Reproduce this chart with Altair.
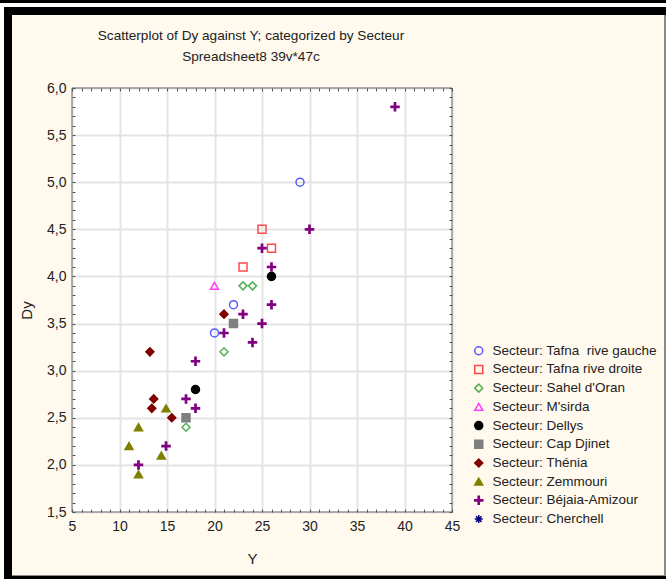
import altair as alt
import pandas as pd

# Sector names in legend order
SECTEURS = [
    "Tafna\u00a0 rive gauche", "Tafna rive droite", "Sahel d'Oran", "M'sirda",
    "Dellys", "Cap Djinet", "Thénia", "Zemmouri", "Béjaia-Amizour", "Cherchell",
]

# Y and Dy values per sector
tafna_g_y = [29, 22, 20]
tafna_g_dy = [5.0, 3.7, 3.4]
tafna_d_y = [25, 26, 23]
tafna_d_dy = [4.5, 4.3, 4.1]
sahel_y = [23, 24, 21, 17]
sahel_dy = [3.9, 3.9, 3.2, 2.4]
msirda_y = [20]
msirda_dy = [3.9]
dellys_y = [26, 18]
dellys_dy = [4.0, 2.8]
djinet_y = [22, 17]
djinet_dy = [3.5, 2.5]
thenia_y = [21, 13.2, 13.6, 13.4, 15.5]
thenia_dy = [3.6, 3.2, 2.7, 2.6, 2.5]
zemmouri_y = [14.9, 12, 11, 14.4, 12]
zemmouri_dy = [2.6, 2.4, 2.2, 2.1, 1.9]
bejaia_y = [39, 30, 25, 26, 26, 23, 25, 21, 24, 18, 17, 18, 14.9, 12]
bejaia_dy = [5.8, 4.5, 4.3, 4.1, 3.7, 3.6, 3.5, 3.4, 3.3, 3.1, 2.7, 2.6, 2.2, 2.0]
cherchell_y = []
cherchell_dy = []

series = [
    (tafna_g_y, tafna_g_dy), (tafna_d_y, tafna_d_dy), (sahel_y, sahel_dy),
    (msirda_y, msirda_dy), (dellys_y, dellys_dy), (djinet_y, djinet_dy),
    (thenia_y, thenia_dy), (zemmouri_y, zemmouri_dy), (bejaia_y, bejaia_dy),
    (cherchell_y, cherchell_dy),
]
rows = []
for name, (ys, dys) in zip(SECTEURS, series):
    for yv, dv in zip(ys, dys):
        rows.append({"Secteur": name, "Y": yv, "Dy": dv})
df = pd.DataFrame(rows)

# Axis tick positions
X_MAJOR = [5, 10, 15, 20, 25, 30, 35, 40, 45]
Y_MAJOR = [1.5, 2.0, 2.5, 3.0, 3.5, 4.0, 4.5, 5.0, 5.5, 6.0]
X_MINOR = list(range(5, 46))
Y_MINOR = [round(1.5 + 0.1 * i, 1) for i in range(46)]

# Marker styling per sector
STAR = "M-1,0L1,0M0,-1L0,1M-0.7,-0.7L0.7,0.7M-0.7,0.7L0.7,-0.7"
PLUS = ("M-1,-0.15L-0.15,-0.15L-0.15,-1L0.15,-1L0.15,-0.15L1,-0.15"
        "L1,0.15L0.15,0.15L0.15,1L-0.15,1L-0.15,0.15L-1,0.15Z")
SHAPES = ["circle", "square", "diamond", "triangle-up", "circle", "square",
          "diamond", "triangle-up", PLUS, STAR]
STROKES = ["#5a5aff", "#ff4a4a", "#55b055", "#ff3cff", "#000000", "#7f7f7f",
           "#800000", "#808000", "#800080", "#000080"]
FILLS = ["transparent", "transparent", "transparent", "transparent", "#000000",
         "#7f7f7f", "#800000", "#808000", "#800080", "transparent"]

W, H = 380, 424
FONT = "Liberation Sans"
TXT = "#222222"

xscale = alt.Scale(domain=[5, 45], nice=False, zero=False)
yscale = alt.Scale(domain=[1.5, 6.0], nice=False, zero=False)

legend = alt.Legend(
    title=None, orient="none", legendX=400, legendY=256,
    labelExpr="'Secteur: ' + datum.label",
    labelFont=FONT, labelFontSize=13.5, labelColor=TXT, labelLimit=300,
    labelOffset=7, rowPadding=3.7, symbolSize=64, symbolStrokeWidth=1.5,
    zindex=1,
)

axis_x = alt.Axis(
    values=X_MAJOR, grid=True, gridColor="#e4e4e4", gridWidth=2,
    ticks=False, domain=False, labelPadding=7, labelFont=FONT,
    labelFontSize=14, labelColor=TXT, labelFlush=False,
    title="Y", titleX=180, titleY=46, titleBaseline="middle",
    titleFont=FONT, titleFontSize=15, titleFontWeight="normal", titleColor=TXT,
)
axis_y = alt.Axis(
    values=Y_MAJOR, grid=True, gridColor="#e4e4e4", gridWidth=2,
    ticks=False, domain=False, labelPadding=6, labelFont=FONT,
    labelFontSize=14, labelColor=TXT, labelFlush=False,
    labelExpr="replace(format(datum.value, '.1f'), '.', ',')",
    title="Dy", titleX=-46, titleY=222, titleAngle=270, titleAlign="center",
    titleBaseline="middle", titleFont=FONT, titleFontSize=15,
    titleFontWeight="normal", titleColor=TXT,
)


def tick_axis(orient, offset, values):
    return alt.Axis(
        orient=orient, offset=offset, values=values, labels=False,
        domain=False, grid=False, ticks=True, tickSize=3, tickColor="#555555",
        tickWidth=1, title="", zindex=1,
    )


points = alt.Chart(df).mark_point(size=64, strokeWidth=1.5, opacity=1).encode(
    x=alt.X("Y:Q", scale=xscale, axis=axis_x),
    y=alt.Y("Dy:Q", scale=yscale, axis=axis_y),
    shape=alt.Shape("Secteur:N", scale=alt.Scale(domain=SECTEURS, range=SHAPES), legend=legend),
    stroke=alt.Stroke("Secteur:N", scale=alt.Scale(domain=SECTEURS, range=STROKES), legend=legend),
    fill=alt.Fill("Secteur:N", scale=alt.Scale(domain=SECTEURS, range=FILLS), legend=legend),
)

# Invisible layers that carry the inward-pointing tick marks on each edge
ticks_bl = alt.Chart(df).mark_point(opacity=0).encode(
    x=alt.X("Y:Q", scale=xscale, axis=tick_axis("top", -H, X_MINOR)),
    y=alt.Y("Dy:Q", scale=yscale, axis=tick_axis("right", -W, Y_MINOR)),
)
ticks_tr = alt.Chart(df).mark_point(opacity=0).encode(
    x=alt.X("Y:Q", scale=xscale, axis=tick_axis("bottom", -H, X_MINOR)),
    y=alt.Y("Dy:Q", scale=yscale, axis=tick_axis("left", -W, Y_MINOR)),
)


def band(x0, x1, y0, y1, color):
    return alt.Chart(alt.Data(values=[{}])).mark_rect(color=color).encode(
        x=alt.value(x0), x2=alt.value(x1), y=alt.value(y0), y2=alt.value(y1)
    )


# Window-style border around the chart (offsets relative to the plot origin)
border = [
    band(-72, -68, -88, 491, "#ffffff"),
    band(-72, 594, -85, -81, "#ffffff"),
    band(-72, 594, -88, -85, "#000000"),
    band(-68, -60, -81, 491, "#000000"),
    band(-68, 594, -81, -73, "#000000"),
    band(-68, 594, 488, 491, "#000000"),
    band(592, 594, -73, 488, "#8a8a8a"),
    band(-60, 592, 487, 488, "#8a8a8a"),
]

frame = alt.Chart(alt.Data(values=[{}])).mark_rect(
    fillOpacity=0, stroke="#6e6e6e", strokeWidth=1
).encode(x=alt.value(0), x2=alt.value(W), y=alt.value(0), y2=alt.value(H))

chart = alt.layer(*border, frame, ticks_bl, ticks_tr, points).resolve_axis(
    x="independent", y="independent"
).properties(
    width=W, height=H,
    padding={"left": 72, "top": 88, "right": 214, "bottom": 67},
    autosize=alt.AutoSizeParams(type="none"),
    background="#fff9ee",
    title=alt.TitleParams(
        text="Scatterplot of Dy against Y; categorized by Secteur",
        subtitle="Spreadsheet8 39v*47c",
        anchor="middle", frame="group", dx=-11, offset=-64,
        font=FONT, fontSize=13.6, fontWeight="normal", color=TXT,
        subtitleFont=FONT, subtitleFontSize=13.6, subtitleColor=TXT,
        subtitlePadding=8,
    ),
).configure_view(fill="#ffffff", strokeOpacity=0)

chart.save("out.html", embed_options={"renderer": "svg", "actions": False})
